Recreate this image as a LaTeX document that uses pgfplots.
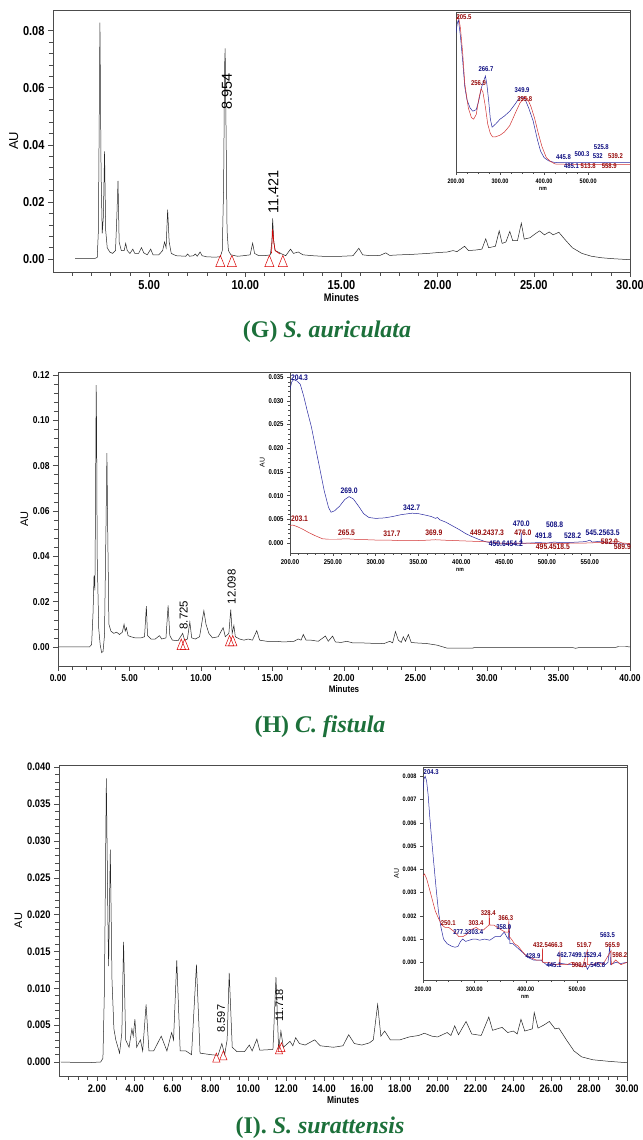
\documentclass[border=0pt]{standalone}
\usepackage{fontspec}
\setmainfont{Liberation Serif}
\newfontfamily\narrow[FakeStretch=0.85]{Liberation Sans}
\newfontfamily\arial{Liberation Sans}
\usepackage{pgfplots}
\pgfplotsset{compat=1.18}
\definecolor{capgreen}{RGB}{28,112,58}
\definecolor{specblue}{RGB}{40,40,160}
\definecolor{specred}{RGB}{210,50,50}
\definecolor{lblblue}{RGB}{15,15,130}
\definecolor{lblred}{RGB}{150,10,10}
\pgfplotsset{
 chrom/.style={
  scale only axis, anchor=south west,
  axis line style={black!70, line width=0.6pt},
  tick align=outside, tick pos=left,
  major tick length=5bp, minor tick length=4bp,
  every tick/.style={black!70, line width=0.5pt},
  scaled x ticks=false, scaled y ticks=false,
  axis background/.style={fill=white},
  clip=false,
 },
 inset/.style={
  scale only axis, anchor=south west,
  axis line style={black!70, line width=0.5pt},
  tick align=outside, tick pos=left,
  major tick length=3bp, minor tick length=2bp,
  every tick/.style={black!70, line width=0.4pt},
  scaled x ticks=false, scaled y ticks=false,
  axis background/.style={fill=white},
  x tick label style={font=\fontsize{6.5}{7}\selectfont\narrow\bfseries},
  y tick label style={font=\fontsize{6.5}{7}\selectfont\narrow\bfseries},
  xticklabel={\pgfmathprintnumber[fixed,fixed zerofill,precision=2,assume math mode=true]{\tick}},
  xlabel={nm}, xlabel style={font=\fontsize{6}{7}\selectfont\narrow\bfseries, yshift=3bp},
 },
 tri/.style={only marks, mark=triangle, mark size=7.5bp, mark options={red!85!black, line width=0.5pt, xscale=0.7, fill=none}},
}
\newcommand{\lb}[1]{\fontsize{#1}{#1}\selectfont\narrow\bfseries}
\begin{document}
\begin{tikzpicture}
\path[use as bounding box] (0,0) rectangle (643bp,1140bp);
% ================= G =================
\begin{axis}[chrom, at={(53bp,868bp)}, width=577bp, height=262bp,
  xmin=0, xmax=30, ymin=-0.0045, ymax=0.0872,
  xtick={5,10,15,20,25,30}, minor xtick={1,2,3,4,6,7,8,9,11,12,13,14,16,17,18,19,21,22,23,24,26,27,28,29},
  ytick={0,0.02,0.04,0.06,0.08}, minor y tick num=4,
  x tick label style={font=\lb{13}},
  y tick label style={font=\lb{13}},
  xticklabel={\pgfmathprintnumber[fixed,fixed zerofill,precision=2,assume math mode=true]{\tick}},
  yticklabel={\pgfmathprintnumber[fixed,fixed zerofill,precision=2,assume math mode=true]{\tick}},
  xlabel={Minutes}, xlabel style={font=\lb{11}, yshift=3bp},
  ylabel={AU}, ylabel style={font=\fontsize{13}{13}\selectfont\arial, yshift=-2bp},
]
\addplot[black!85, line width=0.5pt] coordinates {
(1.15,0.0003)(2.20,0.0003)(2.30,0.0006)(2.36,0.0100)(2.44,0.0828)(2.50,0.0300)(2.56,0.0090)(2.62,0.0150)(2.68,0.0377)(2.74,0.0100)(2.82,0.0040)(2.95,0.0025)(3.10,0.0020)(3.25,0.0030)(3.32,0.0150)(3.38,0.0274)(3.44,0.0060)(3.55,0.0030)(3.70,0.0030)(3.78,0.0055)(3.86,0.0030)(4.00,0.0020)(4.15,0.0035)(4.25,0.0020)(4.45,0.0020)(4.60,0.0040)(4.72,0.0022)(4.90,0.0015)(5.08,0.0035)(5.20,0.0015)(5.50,0.0015)(5.70,0.0030)(5.80,0.0060)(5.88,0.0040)(5.96,0.0173)(6.04,0.0060)(6.15,0.0020)(6.40,0.0012)(6.90,0.0010)(7.00,0.0018)(7.10,0.0010)(7.30,0.0012)(7.40,0.0018)(7.50,0.0010)(7.65,0.0025)(7.75,0.0012)(8.00,0.0008)(8.40,0.0007)(8.70,0.0008)(8.80,0.0030)(8.87,0.0250)(8.92,0.0670)(8.95,0.0738)(8.99,0.0500)(9.05,0.0100)(9.12,0.0030)(9.25,0.0015)(9.60,0.0010)(9.90,0.0012)(10.25,0.0015)(10.38,0.0056)(10.48,0.0020)(10.70,0.0012)(11.00,0.0012)(11.30,0.0015)(11.38,0.0060)(11.42,0.0143)(11.48,0.0060)(11.55,0.0030)(11.70,0.0025)(11.90,0.0018)(12.10,0.0012)(12.35,0.0035)(12.50,0.0020)(12.75,0.0025)(13.00,0.0015)(13.50,0.0012)(14.00,0.0010)(14.50,0.0010)(15.00,0.0010)(15.60,0.0012)(15.90,0.0038)(16.10,0.0015)(16.50,0.0012)(17.00,0.0013)(17.30,0.0022)(17.50,0.0013)(18.00,0.0015)(18.50,0.0016)(19.00,0.0018)(19.50,0.0020)(20.00,0.0023)(20.50,0.0025)(20.80,0.0030)(21.00,0.0026)(21.40,0.0045)(21.60,0.0030)(22.00,0.0032)(22.30,0.0035)(22.50,0.0071)(22.65,0.0040)(23.00,0.0045)(23.20,0.0099)(23.35,0.0055)(23.55,0.0060)(23.75,0.0097)(23.90,0.0065)(24.15,0.0065)(24.35,0.0126)(24.50,0.0070)(24.80,0.0075)(25.10,0.0090)(25.30,0.0099)(25.55,0.0085)(25.80,0.0095)(26.00,0.0085)(26.30,0.0094)(26.60,0.0070)(27.00,0.0040)(27.50,0.0020)(28.00,0.0010)(28.50,0.0005)(29.00,0.0002)(30.00,-0.0002)
};
\addplot[red!85!black, line width=0.6pt] coordinates {
(11.36,0.0020)(11.42,0.0105)(11.48,0.0060)(11.55,0.0030)(11.65,0.0025)(11.80,0.0018)
};
\addplot[tri] coordinates {(8.70,-0.0013)(9.30,-0.0013)(11.25,-0.0013)(11.95,-0.0013)};
\node[rotate=90, anchor=west, font=\fontsize{14.5}{14.5}\selectfont\arial, inner sep=0pt] at (axis cs:9.04,0.0522) {8.954};
\node[rotate=90, anchor=west, font=\fontsize{14.5}{14.5}\selectfont\arial, inner sep=0pt] at (axis cs:11.45,0.0160) {11.421};
\end{axis}
\begin{axis}[inset, at={(456bp,968bp)}, width=174bp, height=160bp,
  xmin=200, xmax=595, ymin=0, ymax=1,
  xtick={200,300,400,500}, minor x tick num=3, ytick=\empty,
]
\addplot[specblue, line width=0.5pt] coordinates {
(200,0.87)(203,0.93)(205.5,0.95)(210,0.85)(215,0.70)(220,0.53)(225,0.45)(232,0.40)(238,0.38)(246,0.39)(252,0.45)(258,0.53)(263,0.57)(266.7,0.60)(270,0.55)(274,0.45)(278,0.33)(282,0.28)(290,0.30)(300,0.33)(310,0.35)(322,0.38)(333,0.42)(343,0.46)(349.9,0.47)(356,0.46)(365,0.40)(375,0.32)(385,0.20)(392,0.13)(400,0.09)(410,0.07)(423,0.06)(440,0.058)(500,0.058)(525,0.06)(560,0.058)(595,0.058)
};
\addplot[specred, line width=0.5pt] coordinates {
(200,0.95)(205.5,0.975)(210,0.90)(215,0.75)(220,0.55)(228,0.40)(235,0.34)(240,0.33)(246,0.36)(252,0.46)(256.9,0.52)(261,0.50)(266,0.42)(272,0.30)(278,0.24)(283,0.22)(290,0.22)(300,0.23)(310,0.25)(322,0.29)(335,0.37)(345,0.43)(355.8,0.47)(362,0.46)(370,0.41)(378,0.34)(387,0.24)(395,0.16)(405,0.09)(415,0.065)(425,0.05)(450,0.048)(500,0.048)(550,0.048)(595,0.048)
};
\node[lblred, font=\lb{7}, anchor=west, inner sep=0pt] at (axis cs:201,0.97) {205.5};
\node[lblblue, font=\lb{7}, inner sep=0pt] at (axis cs:268,0.64) {266.7};
\node[lblred, font=\lb{7}, inner sep=0pt] at (axis cs:251,0.555) {256.9};
\node[lblblue, font=\lb{7}, inner sep=0pt] at (axis cs:350,0.51) {349.9};
\node[lblred, font=\lb{7}, inner sep=0pt] at (axis cs:356,0.455) {355.8};
\node[lblblue, font=\lb{7}, inner sep=0pt] at (axis cs:444,0.093) {445.8};
\node[lblblue, font=\lb{7}, inner sep=0pt] at (axis cs:486,0.114) {500.3};
\node[lblblue, font=\lb{7}, inner sep=0pt] at (axis cs:530,0.156) {525.8};
\node[lblblue, font=\lb{7}, inner sep=0pt] at (axis cs:522,0.10) {532};
\node[lblred, font=\lb{7}, inner sep=0pt] at (axis cs:562,0.10) {539.2};
\node[lblblue, font=\lb{7}, inner sep=0pt] at (axis cs:462,0.035) {485.1};
\node[lblred, font=\lb{7}, inner sep=0pt] at (axis cs:500,0.035) {513.8};
\node[lblred, font=\lb{7}, inner sep=0pt] at (axis cs:548,0.035) {558.9};
\end{axis}
\node[capgreen, font=\fontsize{24}{26}\selectfont\bfseries] at (327bp,808bp) {(G) \textit{S. auriculata}};
% ================= H =================
\begin{axis}[chrom, at={(58bp,474bp)}, width=572bp, height=294bp,
  xmin=0, xmax=40, ymin=-0.0084, ymax=0.1213,
  xtick={0,5,10,15,20,25,30,35,40}, minor x tick num=4,
  ytick={0,0.02,0.04,0.06,0.08,0.10,0.12}, minor y tick num=4,
  x tick label style={font=\lb{10}},
  y tick label style={font=\lb{10}},
  xticklabel={\pgfmathprintnumber[fixed,fixed zerofill,precision=2,assume math mode=true]{\tick}},
  yticklabel={\pgfmathprintnumber[fixed,fixed zerofill,precision=2,assume math mode=true]{\tick}},
  xlabel={Minutes}, xlabel style={font=\lb{9.5}, yshift=3bp},
  ylabel={AU}, ylabel style={font=\fontsize{11}{11}\selectfont\arial, yshift=-2bp},
]
\addplot[black!85, line width=0.5pt] coordinates {
(0.00,0.0000)(2.20,0.0000)(2.35,0.0010)(2.45,0.0150)(2.52,0.0315)(2.58,0.0250)(2.63,0.0700)(2.67,0.1155)(2.70,0.0970)(2.74,0.0400)(2.85,0.0080)(2.95,0.0010)(3.05,-0.0025)(3.15,-0.0020)(3.25,0.0050)(3.35,0.0500)(3.42,0.0855)(3.48,0.0500)(3.56,0.0100)(3.70,0.0070)(3.90,0.0060)(4.10,0.0065)(4.30,0.0055)(4.50,0.0065)(4.62,0.0100)(4.70,0.0070)(4.78,0.0085)(4.90,0.0050)(5.10,0.0045)(5.40,0.0040)(5.80,0.0040)(6.05,0.0045)(6.18,0.0180)(6.26,0.0050)(6.50,0.0035)(6.80,0.0035)(7.10,0.0050)(7.25,0.0035)(7.55,0.0040)(7.70,0.0183)(7.82,0.0050)(8.00,0.0030)(8.40,0.0028)(8.72,0.0060)(8.85,0.0030)(9.05,0.0035)(9.22,0.0110)(9.35,0.0040)(9.60,0.0035)(9.90,0.0045)(10.20,0.0160)(10.35,0.0100)(10.55,0.0060)(10.80,0.0040)(11.20,0.0045)(11.55,0.0085)(11.70,0.0045)(11.95,0.0060)(12.08,0.0165)(12.18,0.0060)(12.30,0.0095)(12.40,0.0045)(12.70,0.0035)(13.00,0.0030)(13.30,0.0035)(13.60,0.0030)(13.90,0.0072)(14.10,0.0030)(14.60,0.0025)(15.20,0.0025)(15.80,0.0022)(16.50,0.0025)(16.80,0.0035)(17.00,0.0030)(17.15,0.0055)(17.35,0.0030)(17.70,0.0030)(18.20,0.0025)(18.70,0.0048)(18.90,0.0025)(19.20,0.0048)(19.40,0.0022)(19.80,0.0020)(20.20,0.0025)(20.60,0.0018)(21.20,0.0018)(22.00,0.0016)(22.80,0.0015)(23.20,0.0025)(23.40,0.0018)(23.60,0.0068)(23.80,0.0030)(24.00,0.0020)(24.15,0.0045)(24.30,0.0025)(24.50,0.0055)(24.70,0.0020)(25.00,0.0018)(25.80,0.0015)(26.50,0.0008)(27.20,-0.0005)(28.00,-0.0005)(29.00,-0.0005)(29.10,-0.0003)(32.00,-0.0003)(36.00,-0.0003)(36.20,-0.0006)(36.40,-0.0003)(39.00,-0.0002)(39.20,0.0002)(39.70,0.0002)(40.00,0.0000)
};
\addplot[tri, mark size=7bp] coordinates {(8.62,0.0004)(8.86,0.0004)(12.00,0.0020)(12.22,0.0020)};
\node[rotate=90, anchor=west, font=\fontsize{11.5}{11.5}\selectfont\arial, inner sep=0pt] at (axis cs:8.79,0.0076) {8.725};
\node[rotate=90, anchor=west, font=\fontsize{11.5}{11.5}\selectfont\arial, inner sep=0pt] at (axis cs:12.15,0.0187) {12.098};
\end{axis}
\begin{axis}[inset, at={(290bp,587bp)}, width=340bp, height=181bp,
  xmin=200, xmax=597, ymin=-0.0021, ymax=0.0361,
  xtick={200,250,300,350,400,450,500,550}, minor x tick num=4,
  ytick={0,0.005,0.01,0.015,0.02,0.025,0.03,0.035}, minor y tick num=4,
  yticklabel={\pgfmathprintnumber[fixed,fixed zerofill,precision=3,assume math mode=true]{\tick}},
  ylabel={AU}, ylabel style={font=\fontsize{7}{7}\selectfont\arial, yshift=-3bp},
  x tick label style={font=\lb{7}}, y tick label style={font=\lb{7}},
]
\addplot[specblue, line width=0.5pt] coordinates {
(200,0.0324)(202,0.0340)(204.3,0.0345)(208,0.0342)(212,0.0335)(216,0.0310)(220,0.0280)(225,0.0245)(230,0.0200)(235,0.0155)(240,0.0110)(245,0.0075)(248,0.0065)(252,0.0068)(258,0.0078)(264,0.0092)(269,0.0098)(274,0.0093)(280,0.0078)(286,0.0062)(292,0.0054)(300,0.0052)(310,0.0053)(320,0.0056)(330,0.0060)(342.7,0.0063)(350,0.0062)(358,0.0059)(365,0.0056)(370,0.0052)(372,0.0054)(375,0.0049)(382,0.0044)(390,0.0036)(398,0.0028)(405,0.0020)(412,0.0014)(420,0.0008)(428,0.0003)(436,0.0000)(445,-0.0002)(455,-0.0002)(465,-0.0001)(469.5,-0.0001)(470,0.0022)(470.5,-0.0001)(480,0.0000)(490,0.0001)(500,0.0000)(508.8,0.0002)(515,0.0001)(525,0.0001)(535,0.0002)(545,0.0003)(550,0.0006)(553,0.0002)(563.5,0.0004)(570,0.0000)(580,-0.0001)(590,-0.0002)(597,-0.0003)
};
\addplot[specred, line width=0.5pt] coordinates {
(200,0.0037)(203.1,0.0038)(208,0.0035)(215,0.0029)(222,0.0022)(230,0.0015)(238,0.0009)(245,0.0008)(255,0.0008)(265.5,0.0009)(275,0.0008)(290,0.0007)(305,0.0006)(317.7,0.0006)(330,0.0005)(345,0.0005)(360,0.0006)(369.9,0.0007)(380,0.0006)(395,0.0005)(410,0.0004)(425,0.0003)(437,0.0002)(445,0.0000)(455,-0.0001)(465,0.0000)(476,0.0000)(486,-0.0001)(495,-0.0001)(505,0.0000)(518,-0.0001)(530,0.0000)(545,0.0000)(560,0.0001)(575,0.0002)(582,0.0004)(588,0.0000)(597,-0.0001)
};
\node[lblblue, font=\lb{8}, anchor=west, inner sep=0pt] at (axis cs:201,0.0348) {204.3};
\node[lblblue, font=\lb{8}, inner sep=0pt] at (axis cs:269,0.0110) {269.0};
\node[lblblue, font=\lb{8}, inner sep=0pt] at (axis cs:342,0.0074) {342.7};
\node[lblblue, font=\lb{8}, inner sep=0pt] at (axis cs:470,0.0041) {470.0};
\node[lblblue, font=\lb{8}, inner sep=0pt] at (axis cs:509,0.0038) {508.8};
\node[lblblue, font=\lb{8}, inner sep=0pt] at (axis cs:496,0.0015) {491.8};
\node[lblblue, font=\lb{8}, inner sep=0pt] at (axis cs:530,0.0015) {528.2};
\node[lblblue, font=\lb{8}, inner sep=0pt] at (axis cs:565,0.0021) {545.2563.5};
\node[lblblue, font=\lb{8}, inner sep=0pt] at (axis cs:452,-0.0002) {450.6454.2};
\node[lblred, font=\lb{8}, anchor=west, inner sep=0pt] at (axis cs:201,0.0052) {203.1};
\node[lblred, font=\lb{8}, inner sep=0pt] at (axis cs:266,0.0022) {265.5};
\node[lblred, font=\lb{8}, inner sep=0pt] at (axis cs:319,0.0020) {317.7};
\node[lblred, font=\lb{8}, inner sep=0pt] at (axis cs:368,0.0021) {369.9};
\node[lblred, font=\lb{8}, inner sep=0pt] at (axis cs:430,0.0021) {449.2437.3};
\node[lblred, font=\lb{8}, inner sep=0pt] at (axis cs:472,0.0021) {476.0};
\node[lblred, font=\lb{8}, inner sep=0pt] at (axis cs:507,-0.0008) {495.4518.5};
\node[lblred, font=\lb{8}, inner sep=0pt] at (axis cs:573,0.0002) {582.0};
\node[lblred, font=\lb{8}, inner sep=0pt] at (axis cs:588,-0.0008) {589.9};
\end{axis}
\node[capgreen, font=\fontsize{24}{26}\selectfont\bfseries] at (320bp,413bp) {(H) \textit{C. fistula}};
% ================= I =================
\begin{axis}[chrom, at={(59bp,64bp)}, width=568bp, height=311bp,
  xmin=0, xmax=30, ymin=-0.0019, ymax=0.0403,
  xtick={2,4,...,30}, minor xtick={0.5,1,1.5,2.5,3,3.5,4.5,5,5.5,6.5,7,7.5,8.5,9,9.5,10.5,11,11.5,12.5,13,13.5,14.5,15,15.5,16.5,17,17.5,18.5,19,19.5,20.5,21,21.5,22.5,23,23.5,24.5,25,25.5,26.5,27,27.5,28.5,29,29.5},
  ytick={0,0.005,0.01,0.015,0.02,0.025,0.03,0.035,0.04}, minor y tick num=4,
  x tick label style={font=\lb{11}},
  y tick label style={font=\lb{11}},
  xticklabel={\pgfmathprintnumber[fixed,fixed zerofill,precision=2,assume math mode=true]{\tick}},
  yticklabel={\pgfmathprintnumber[fixed,fixed zerofill,precision=3,assume math mode=true]{\tick}},
  xlabel={Minutes}, xlabel style={font=\lb{10}, yshift=3bp},
  ylabel={AU}, ylabel style={font=\fontsize{11}{11}\selectfont\arial, yshift=-2bp},
]
\addplot[black!85, line width=0.5pt] coordinates {
(0.10,0.0000)(1.50,-0.0001)(2.20,0.0000)(2.32,0.0005)(2.40,0.0100)(2.50,0.0385)(2.58,0.0200)(2.62,0.0130)(2.71,0.0288)(2.80,0.0110)(2.90,0.0045)(3.00,0.0030)(3.20,0.0012)(3.32,0.0040)(3.41,0.0163)(3.52,0.0030)(3.70,0.0020)(3.85,0.0045)(3.92,0.0035)(4.01,0.0058)(4.10,0.0020)(4.30,0.0030)(4.42,0.0015)(4.60,0.0078)(4.75,0.0015)(5.00,0.0015)(5.40,0.0035)(5.70,0.0015)(5.95,0.0040)(6.05,0.0030)(6.22,0.0138)(6.40,0.0015)(6.70,0.0015)(7.00,0.0010)(7.26,0.0132)(7.45,0.0012)(8.00,0.0010)(8.40,0.0009)(8.60,0.0025)(8.75,0.0010)(8.88,0.0030)(8.99,0.0121)(9.15,0.0020)(9.40,0.0014)(9.80,0.0014)(10.05,0.0023)(10.20,0.0015)(10.45,0.0031)(10.60,0.0016)(11.30,0.0017)(11.46,0.0115)(11.60,0.0017)(11.72,0.0042)(11.85,0.0020)(12.20,0.0028)(12.35,0.0022)(12.50,0.0033)(12.70,0.0025)(13.00,0.0023)(13.50,0.0030)(13.80,0.0022)(14.50,0.0020)(15.00,0.0022)(15.30,0.0037)(15.60,0.0025)(16.00,0.0023)(16.40,0.0026)(16.60,0.0030)(16.83,0.0078)(17.00,0.0035)(17.20,0.0042)(17.50,0.0030)(18.00,0.0030)(18.50,0.0034)(19.00,0.0036)(19.30,0.0039)(19.70,0.0035)(20.00,0.0034)(20.50,0.0040)(20.70,0.0036)(20.90,0.0049)(21.10,0.0037)(21.50,0.0055)(21.80,0.0038)(22.30,0.0036)(22.70,0.0061)(22.90,0.0043)(23.40,0.0047)(23.70,0.0040)(24.00,0.0042)(24.20,0.0038)(24.40,0.0058)(24.60,0.0042)(25.00,0.0045)(25.10,0.0067)(25.30,0.0046)(25.60,0.0050)(25.90,0.0055)(26.20,0.0045)(26.40,0.0046)(26.80,0.0030)(27.20,0.0015)(27.60,0.0007)(28.20,0.0003)(29.00,0.0001)(30.00,-0.0001)
};
\addplot[tri, mark size=6bp] coordinates {(8.31,0.0004)(8.68,0.0007)(11.62,0.0015)(11.75,0.0018)};
\node[rotate=90, anchor=west, font=\fontsize{11}{11}\selectfont\arial, inner sep=0pt] at (axis cs:8.56,0.0040) {8.597};
\node[rotate=90, anchor=west, font=\fontsize{11}{11}\selectfont\arial, inner sep=0pt] at (axis cs:11.64,0.0054) {11.718};
\end{axis}
\begin{axis}[inset, at={(423bp,160bp)}, width=204bp, height=213bp,
  xmin=200, xmax=597, ymin=-0.00076, ymax=0.0084,
  xtick={200,300,400,500}, minor x tick num=3,
  ytick={0,0.001,0.002,0.003,0.004,0.005,0.006,0.007,0.008},
  yticklabel={\pgfmathprintnumber[fixed,fixed zerofill,precision=3,assume math mode=true]{\tick}},
  ylabel={AU}, ylabel style={font=\fontsize{7}{7}\selectfont\arial, yshift=-3bp},
  x tick label style={font=\lb{6.5}}, y tick label style={font=\lb{6.5}},
]
\addplot[specblue, line width=0.5pt] coordinates {
(200,0.0074)(202,0.0079)(204.3,0.0080)(207,0.0078)(210,0.0072)(213,0.0063)(216,0.0055)(220,0.0045)(225,0.0033)(230,0.0022)(235,0.0015)(240,0.0010)(247,0.0008)(255,0.0007)(262,0.00065)(268,0.00068)(273,0.0009)(277.3,0.0010)(283,0.0009)(290,0.00095)(297,0.0010)(303.4,0.0010)(310,0.00095)(320,0.0010)(330,0.00095)(340,0.0011)(350,0.0011)(358,0.0013)(363,0.0011)(366,0.0010)(368,0.0016)(369,0.0008)(375,0.0008)(385,0.0006)(395,0.0004)(405,0.0002)(415,0.0001)(428.9,0.0001)(440,-0.0001)(455,-0.0001)(470,-0.00005)(485,-0.0001)(500,-0.0001)(510,-0.0002)(515,0.0000)(520,-0.0003)(525,-0.0001)(535,-0.0001)(545,0.0000)(555,-0.0001)(560,0.0000)(563.5,0.0007)(565,-0.0001)(575,0.0000)(585,-0.00005)(597,0.0000)
};
\addplot[specred, line width=0.5pt] coordinates {
(200,0.0037)(203,0.0038)(207,0.0036)(212,0.0032)(218,0.0027)(224,0.0022)(230,0.0019)(237,0.0016)(243,0.0015)(250.1,0.0015)(256,0.0014)(262,0.0013)(270,0.0011)(277,0.0011)(285,0.0012)(293,0.0014)(303.4,0.0015)(310,0.0014)(318,0.0014)(323,0.0015)(328.4,0.0016)(329,0.0021)(330,0.0016)(338,0.0016)(345,0.0015)(352,0.0014)(360,0.0013)(366.3,0.0013)(367,0.0018)(368,0.0011)(372,0.0010)(378,0.0008)(385,0.0007)(392,0.0005)(400,0.0003)(410,0.0002)(420,0.0001)(432,0.0001)(432.5,0.0006)(433,0.0000)(445,0.0000)(455,-0.0001)(466,-0.0001)(466.3,0.0005)(467,-0.0001)(480,-0.0001)(490,0.0000)(500,-0.0001)(510,-0.0002)(519.7,0.0005)(520,-0.0001)(530,-0.0001)(540,0.0000)(550,-0.0001)(565.9,0.0005)(566.5,-0.0001)(575,0.0001)(585,-0.0001)(597,0.0000)
};
\node[lblblue, font=\lb{7}, anchor=west, inner sep=0pt] at (axis cs:201,0.0082) {204.3};
\node[lblred, font=\lb{7}, inner sep=0pt] at (axis cs:249,0.0017) {250.1};
\node[lblred, font=\lb{7}, inner sep=0pt] at (axis cs:303,0.0017) {303.4};
\node[lblred, font=\lb{7}, inner sep=0pt] at (axis cs:327,0.0021) {328.4};
\node[lblred, font=\lb{7}, inner sep=0pt] at (axis cs:361,0.0019) {366.3};
\node[lblblue, font=\lb{7}, inner sep=0pt] at (axis cs:288,0.0013) {277.3303.4};
\node[lblblue, font=\lb{7}, inner sep=0pt] at (axis cs:357,0.0015) {358.0};
\node[lblred, font=\lb{7}, inner sep=0pt] at (axis cs:443,0.00075) {432.5466.3};
\node[lblred, font=\lb{7}, inner sep=0pt] at (axis cs:514,0.00075) {519.7};
\node[lblred, font=\lb{7}, inner sep=0pt] at (axis cs:569,0.00075) {565.9};
\node[lblblue, font=\lb{7}, inner sep=0pt] at (axis cs:559,0.00115) {563.5};
\node[lblblue, font=\lb{7}, inner sep=0pt] at (axis cs:414,0.00027) {428.9};
\node[lblblue, font=\lb{7}, inner sep=0pt] at (axis cs:504,0.0003) {462.7499.1529.4};
\node[lblred, font=\lb{7}, inner sep=0pt] at (axis cs:583,0.0003) {598.2};
\node[lblblue, font=\lb{7}, inner sep=0pt] at (axis cs:455,-0.0001) {445.1};
\node[lblred, font=\lb{7}, inner sep=0pt] at (axis cs:504,-0.0001) {509.3};
\node[lblblue, font=\lb{7}, inner sep=0pt] at (axis cs:540,-0.0001) {545.8};
\end{axis}
\node[capgreen, font=\fontsize{24}{26}\selectfont\bfseries] at (320bp,12bp) {(I). \textit{S. surattensis}};
\end{tikzpicture}
\end{document}
